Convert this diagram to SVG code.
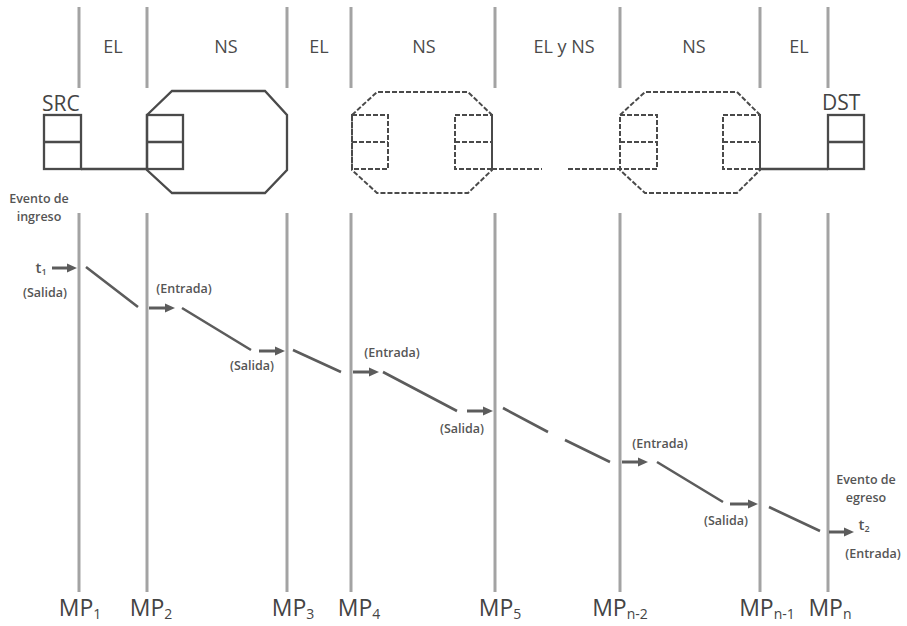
<svg xmlns="http://www.w3.org/2000/svg" width="907" height="626" viewBox="0 0 907 626">
<style>
.bg{fill:#ffffff}
.vl{stroke:#a3a3a3;stroke-width:3;fill:none}
.box{stroke:#4a4a4a;stroke-width:2.3;fill:none}
.dbox{stroke:#4a4a4a;stroke-width:2;fill:none;stroke-dasharray:5 2}
.diag{stroke:#5c5c5c;stroke-width:2.6;fill:none}
.arr{stroke:#5c5c5c;stroke-width:3;fill:none;marker-end:url(#ah)}
.hdr{font-family:"Open Sans","Noto Sans",sans-serif;font-size:18px;fill:#4a4a4a;text-anchor:middle}
.nm{font-family:"Open Sans","Noto Sans",sans-serif;font-size:21px;fill:#444444}
.sm{font-family:"Open Sans","Noto Sans",sans-serif;font-size:12.5px;font-weight:600;fill:#555555;text-anchor:middle}
.mp{font-family:"Open Sans","Noto Sans",sans-serif;font-size:23px;fill:#444444;text-anchor:middle}
.sub{font-size:14px}
</style>
<defs>
<marker id="ah" markerUnits="userSpaceOnUse" markerWidth="12" markerHeight="12" refX="2" refY="5" orient="auto">
<path d="M0,0.5 L10,5 L0,9.5 z" fill="#5c5c5c"/>
</marker>
</defs>
<rect class="bg" x="0" y="0" width="907" height="626"/>

<g id="measurement-lines">
<path class="vl" d="M79,7V88M147,7V88M287,7V88M351,7V88M495,7V88M620,7V88M760,7V88M828,7V88"/>
<path class="vl" d="M79,213V592M147,213V592M287,213V592M351,213V592M495,213V592M620,213V592M760,213V592M828,213V592"/>
</g>

<g id="segment-labels">
<text class="hdr" x="113" y="53">EL</text>
<text class="hdr" x="226" y="53">NS</text>
<text class="hdr" x="319" y="53">EL</text>
<text class="hdr" x="424" y="53">NS</text>
<text class="hdr" x="564" y="53">EL y NS</text>
<text class="hdr" x="694" y="53">NS</text>
<text class="hdr" x="799" y="53">EL</text>
</g>

<g id="src">
<text class="nm" x="42" y="111">SRC</text>
<rect class="box" x="44" y="115" width="37" height="54"/>
<path class="box" d="M44,142H81"/>
</g>

<g id="ns1">
<path class="box" d="M147,115 L172,91 H265 L287,115 V170 L265,193 H172 L147,170 Z"/>
<rect class="box" x="147" y="115" width="36" height="54"/>
<path class="box" d="M147,142H183"/>
</g>

<g id="ns2">
<path class="dbox" d="M352,115 L377,92 H468 L492,115 V170 L468,193 H377 L352,170 Z"/>
<rect class="dbox" x="352" y="115" width="36" height="54"/>
<path class="dbox" d="M352,142H388"/>
<rect class="dbox" x="455" y="115" width="37" height="54"/>
<path class="dbox" d="M455,142H492"/>
</g>

<g id="ns3">
<path class="dbox" d="M620,115 L645,92 H737 L760,115 V170 L737,193 H645 L620,170 Z"/>
<rect class="dbox" x="620" y="115" width="37" height="54"/>
<path class="dbox" d="M620,142H657"/>
<rect class="dbox" x="723" y="115" width="37" height="54"/>
<path class="dbox" d="M723,142H760"/>
</g>

<g id="dst">
<text class="nm" x="822" y="110">DST</text>
<rect class="box" x="828" y="115" width="36" height="54"/>
<path class="box" d="M828,142H864"/>
</g>

<g id="connectors">
<path class="box" d="M81,169H147"/>
<path class="dbox" d="M492,169H542M568,169H620"/>
<path class="box" d="M760,169H828"/>
</g>

<g id="timeline">
<path class="diag" d="M86,267L138,307M182,308L251,350M293,350L341,372M383,372L457,411M503,408L548,432M565,440L610,462M657,462L723,502M769,507L820,531"/>
<path class="arr" d="M52,268H69"/>
<path class="arr" d="M149,308H167"/>
<path class="arr" d="M259,351H277"/>
<path class="arr" d="M353,372H371"/>
<path class="arr" d="M467,411H485"/>
<path class="arr" d="M622,462H640"/>
<path class="arr" d="M730,504H750"/>
<path class="arr" d="M829,532H846"/>
</g>

<g id="event-labels">
<text class="sm" x="39" y="203">Evento de</text>
<text class="sm" x="39" y="221">ingreso</text>
<text class="sm" x="41" y="273" style="font-size:15px">t<tspan style="font-size:9px" dy="2">1</tspan></text>
<text class="sm" x="45" y="297">(Salida)</text>
<text class="sm" x="184" y="293">(Entrada)</text>
<text class="sm" x="252" y="370">(Salida)</text>
<text class="sm" x="392" y="357">(Entrada)</text>
<text class="sm" x="462" y="433">(Salida)</text>
<text class="sm" x="660" y="448">(Entrada)</text>
<text class="sm" x="726" y="525">(Salida)</text>
<text class="sm" x="866" y="484">Evento de</text>
<text class="sm" x="866" y="502">egreso</text>
<text class="sm" x="864" y="530" style="font-size:15px">t<tspan style="font-size:9px" dy="2">2</tspan></text>
<text class="sm" x="873" y="558">(Entrada)</text>
</g>

<g id="mp-labels">
<text class="mp" x="80" y="616">MP<tspan class="sub" dy="3">1</tspan></text>
<text class="mp" x="151" y="616">MP<tspan class="sub" dy="3">2</tspan></text>
<text class="mp" x="293" y="616">MP<tspan class="sub" dy="3">3</tspan></text>
<text class="mp" x="359" y="616">MP<tspan class="sub" dy="3">4</tspan></text>
<text class="mp" x="500" y="616">MP<tspan class="sub" dy="3">5</tspan></text>
<text class="mp" x="620" y="616">MP<tspan class="sub" dy="3">n-2</tspan></text>
<text class="mp" x="767" y="616">MP<tspan class="sub" dy="3">n-1</tspan></text>
<text class="mp" x="830" y="616">MP<tspan class="sub" dy="3">n</tspan></text>
</g>
</svg>
